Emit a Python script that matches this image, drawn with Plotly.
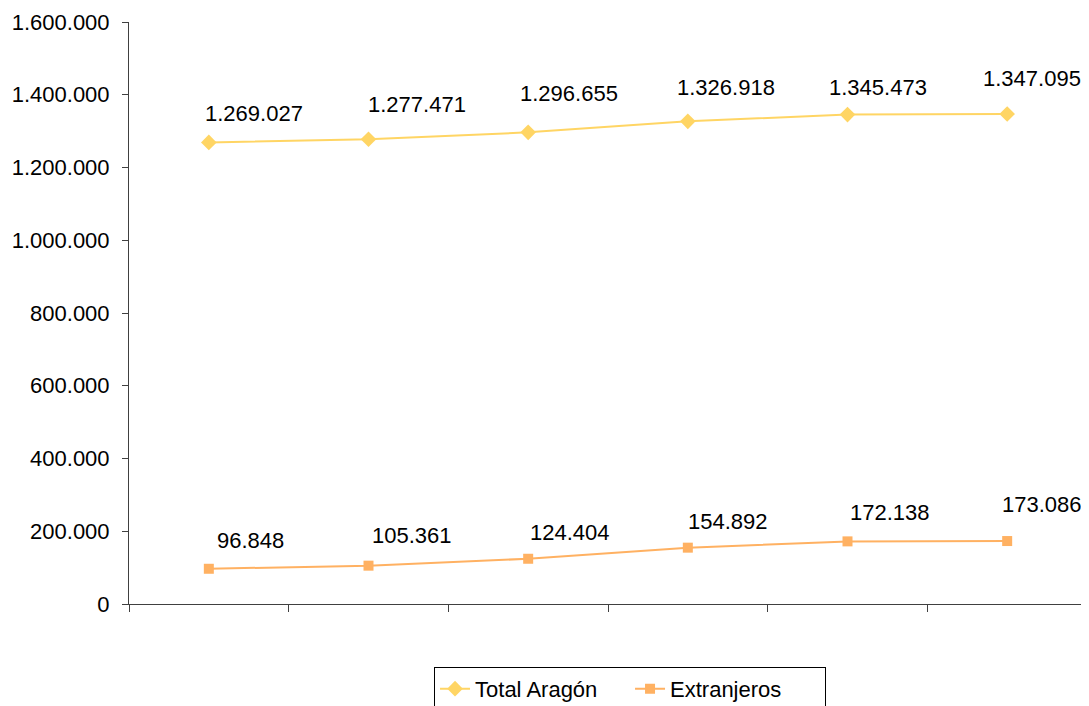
import plotly.graph_objects as go

years = ["2005", "2006", "2007", "2008", "2009", "2010"]
total_aragon = [1269027, 1277471, 1296655, 1326918, 1345473, 1347095]
extranjeros = [96848, 105361, 124404, 154892, 172138, 173086]

# label offsets in pixels (x, y) as placed in the original chart
total_shift = [(45, 29), (48, 35), (41, 39), (38, 34), (30, 27), (25, 35)]
extr_shift = [(42, 28), (43, 30), (42, 26), (40, 26), (42, 29), (35, 37)]

font_name = "Liberation Sans, Arial, sans-serif"
gold = "#FFD564"
orange = "#FFB162"


def fmt(v):
    return f"{v:,}".replace(",", ".")


fig = go.Figure()
fig.add_trace(go.Scatter(x=years, y=total_aragon, mode="lines+markers", name="Total Aragón",
                         line=dict(color=gold, width=2),
                         marker=dict(symbol="diamond", size=12, color=gold)))
fig.add_trace(go.Scatter(x=years, y=extranjeros, mode="lines+markers", name="Extranjeros",
                         line=dict(color=orange, width=2),
                         marker=dict(symbol="square", size=10, color=orange)))

# numeric-looking categories: place labels by category index
for vals, shifts in [(total_aragon, total_shift), (extranjeros, extr_shift)]:
    for i, (v, (dx, dy)) in enumerate(zip(vals, shifts)):
        fig.add_annotation(x=i, y=v, text=fmt(v), showarrow=False,
                           xshift=dx, yshift=dy,
                           font=dict(family=font_name, size=22, color="black"))

# page body has an 8px margin, so the figure is a bit smaller than the window
fig.update_layout(
    width=1081, height=698,
    margin=dict(l=121, r=2, t=14, b=102, autoexpand=False),
    plot_bgcolor="white", paper_bgcolor="white",
    separators=",.",
    font=dict(family=font_name, size=22, color="black"),
    showlegend=True,
    legend=dict(orientation="h", x=0.523, xanchor="center", y=-0.108, yanchor="top",
                bordercolor="black", borderwidth=1, font=dict(size=22),
                entrywidth=150),
)
fig.update_xaxes(type="category", range=[-0.5, 5.5], showticklabels=False,
                 tickson="boundaries", ticks="outside", ticklen=7, tickcolor="#404040",
                 showline=True, linecolor="#404040", linewidth=1, showgrid=False, zeroline=False)
fig.update_yaxes(range=[0, 1600000], dtick=200000, tickformat=",d",
                 ticks="outside", ticklen=6, tickcolor="#404040", ticklabelstandoff=8,
                 showline=True, linecolor="#404040", linewidth=1, showgrid=False, zeroline=False)

fig.write_html("out.html")
